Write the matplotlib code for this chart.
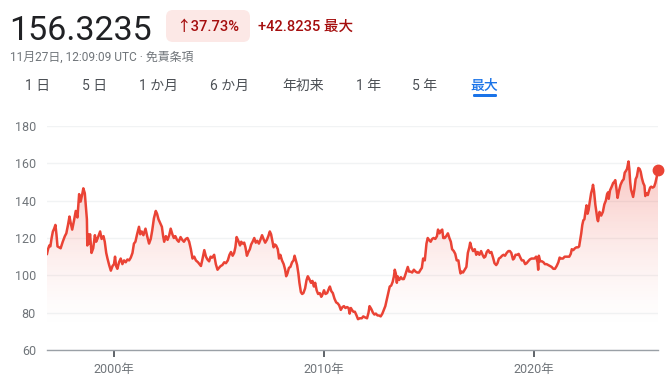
import numpy as np
import matplotlib
matplotlib.use('Agg')
import matplotlib.pyplot as plt
from matplotlib.patches import FancyBboxPatch

plt.rcParams['font.family'] = ['Roboto', 'Noto Sans CJK JP', 'DejaVu Sans']

# USD/JPY (decimal year, rate)
years = [1996.81, 1996.86, 1996.92, 1996.97, 1997.03, 1997.09, 1997.15, 1997.21, 1997.26, 1997.31,
         1997.39, 1997.46, 1997.56, 1997.66, 1997.73, 1997.81, 1997.88, 1997.94, 1998.01, 1998.09,
         1998.18, 1998.26, 1998.34, 1998.41, 1998.48, 1998.54, 1998.61, 1998.67, 1998.71, 1998.73,
         1998.77, 1998.81, 1998.86, 1998.93, 1999.01, 1999.09, 1999.15, 1999.21, 1999.29, 1999.34,
         1999.41, 1999.5, 1999.56, 1999.63, 1999.69, 1999.77, 1999.85, 1999.93, 2000.0, 2000.05,
         2000.1, 2000.16, 2000.24, 2000.32, 2000.4, 2000.48, 2000.56, 2000.64, 2000.72, 2000.8,
         2000.88, 2000.95, 2001.02, 2001.1, 2001.19, 2001.25, 2001.32, 2001.4, 2001.5, 2001.58,
         2001.67, 2001.75, 2001.82, 2001.9, 2001.99, 2002.05, 2002.12, 2002.2, 2002.28, 2002.34,
         2002.39, 2002.47, 2002.55, 2002.63, 2002.7, 2002.78, 2002.85, 2002.92, 2003.0, 2003.08,
         2003.17, 2003.25, 2003.33, 2003.42, 2003.5, 2003.58, 2003.66, 2003.74, 2003.82, 2003.9,
         2004.0, 2004.07, 2004.14, 2004.2, 2004.3, 2004.38, 2004.45, 2004.53, 2004.6, 2004.68,
         2004.77, 2004.85, 2004.93, 2005.0, 2005.08, 2005.16, 2005.25, 2005.33, 2005.42, 2005.5,
         2005.57, 2005.65, 2005.72, 2005.78, 2005.84, 2005.92, 2006.0, 2006.06, 2006.12, 2006.2,
         2006.26, 2006.33, 2006.4, 2006.47, 2006.53, 2006.6, 2006.68, 2006.75, 2006.82, 2006.9,
         2006.97, 2007.05, 2007.12, 2007.2, 2007.28, 2007.35, 2007.42, 2007.48, 2007.55, 2007.6,
         2007.66, 2007.72, 2007.8, 2007.86, 2007.92, 2008.0, 2008.08, 2008.15, 2008.2, 2008.26,
         2008.33, 2008.4, 2008.48, 2008.55, 2008.6, 2008.66, 2008.72, 2008.78, 2008.83, 2008.9,
         2008.96, 2009.02, 2009.1, 2009.17, 2009.23, 2009.3, 2009.38, 2009.45, 2009.52, 2009.58,
         2009.65, 2009.72, 2009.8, 2009.87, 2009.92, 2010.0, 2010.07, 2010.15, 2010.22, 2010.28,
         2010.35, 2010.42, 2010.5, 2010.58, 2010.65, 2010.72, 2010.8, 2010.88, 2010.95, 2011.02,
         2011.1, 2011.17, 2011.22, 2011.28, 2011.33, 2011.4, 2011.47, 2011.55, 2011.62, 2011.7,
         2011.8, 2011.87, 2011.95, 2012.05, 2012.12, 2012.17, 2012.25, 2012.33, 2012.4, 2012.47,
         2012.55, 2012.62, 2012.7, 2012.78, 2012.85, 2012.92, 2013.0, 2013.07, 2013.13, 2013.2,
         2013.27, 2013.33, 2013.37, 2013.42, 2013.47, 2013.5, 2013.58, 2013.66, 2013.73, 2013.8,
         2013.85, 2013.92, 2013.99, 2014.05, 2014.12, 2014.2, 2014.28, 2014.36, 2014.44, 2014.52,
         2014.6, 2014.66, 2014.72, 2014.8, 2014.88, 2014.94, 2015.0, 2015.08, 2015.15, 2015.22,
         2015.3, 2015.38, 2015.43, 2015.5, 2015.58, 2015.63, 2015.68, 2015.75, 2015.82, 2015.9,
         2015.97, 2016.04, 2016.1, 2016.18, 2016.25, 2016.32, 2016.4, 2016.45, 2016.5, 2016.55,
         2016.62, 2016.7, 2016.78, 2016.85, 2016.92, 2016.96, 2017.02, 2017.1, 2017.18, 2017.25,
         2017.32, 2017.4, 2017.48, 2017.55, 2017.62, 2017.68, 2017.75, 2017.82, 2017.9, 2017.97,
         2018.05, 2018.12, 2018.2, 2018.26, 2018.33, 2018.4, 2018.48, 2018.55, 2018.62, 2018.7,
         2018.78, 2018.85, 2018.92, 2019.0, 2019.05, 2019.12, 2019.2, 2019.27, 2019.35, 2019.42,
         2019.5, 2019.58, 2019.65, 2019.72, 2019.8, 2019.88, 2019.95, 2020.02, 2020.1, 2020.17,
         2020.2, 2020.23, 2020.3, 2020.38, 2020.45, 2020.52, 2020.6, 2020.68, 2020.76, 2020.84,
         2020.92, 2021.0, 2021.08, 2021.16, 2021.22, 2021.3, 2021.38, 2021.46, 2021.52, 2021.6,
         2021.68, 2021.75, 2021.8, 2021.87, 2021.95, 2022.02, 2022.1, 2022.15, 2022.2, 2022.25,
         2022.3, 2022.35, 2022.4, 2022.45, 2022.5, 2022.55, 2022.6, 2022.65, 2022.72, 2022.78,
         2022.81, 2022.86, 2022.92, 2022.97, 2023.02, 2023.05, 2023.12, 2023.2, 2023.28, 2023.35,
         2023.42, 2023.48, 2023.53, 2023.56, 2023.62, 2023.7, 2023.77, 2023.82, 2023.87, 2023.92,
         2023.98, 2024.04, 2024.12, 2024.2, 2024.27, 2024.32, 2024.38, 2024.43, 2024.5, 2024.54,
         2024.58, 2024.62, 2024.67, 2024.72, 2024.78, 2024.84, 2024.9, 2024.97, 2025.03, 2025.08,
         2025.14, 2025.2, 2025.26, 2025.3, 2025.36, 2025.42, 2025.47, 2025.53, 2025.58, 2025.65,
         2025.72, 2025.78, 2025.83, 2025.87, 2025.905]
rates = [111.5, 114, 116, 115.5, 120, 123.5, 125, 127, 122, 115.5,
         115, 114.5, 118, 121, 122.5, 127, 131.5, 128, 124.5, 129,
         134.5, 131, 143.5, 139.5, 143, 146.6, 144, 136, 130, 116,
         122, 117, 122, 112, 114.5, 121.5, 118, 119.5, 122, 123.5,
         119.5, 121, 118, 112, 109, 105.5, 102.5, 105, 106, 110,
         105, 103.5, 107, 109, 106, 108, 107, 108.5, 108, 109.5,
         112, 117, 118, 122, 126, 122, 123.5, 121.5, 125, 121,
         117, 119.5, 124, 130.5, 134.5, 133, 130, 128, 126, 121,
         118, 121, 119, 121.5, 125, 122, 120, 121, 119, 118,
         120.5, 119, 118, 119.5, 120, 118, 114, 109, 110, 108,
         107, 106, 105, 108, 113.5, 110, 108.5, 107.5, 110, 109.5,
         111, 106, 103, 104, 105, 105.5, 107, 106.5, 108, 111,
         112.5, 110.5, 112, 115, 120.5, 118.5, 116, 118, 117, 117.5,
         115, 110.5, 112.5, 114, 116.5, 118, 120, 117.5, 118.5, 117,
         119, 121.5, 119.5, 117.5, 119, 121, 123.5, 122, 118, 115,
         116.5, 116, 114, 109, 111, 108, 106, 103, 99.5, 101,
         104, 104.5, 107, 108, 110.5, 108, 105.5, 101, 96, 91,
         90, 90.5, 93, 97.5, 99.5, 98, 96, 97, 94, 96,
         92, 90, 90.5, 88.5, 89.5, 92, 90, 90.5, 92.5, 94,
         91.5, 90.5, 87.5, 85.5, 85, 84, 81.5, 83, 83.5, 82.5,
         83, 82.5, 79.5, 82.5, 81.5, 80.5, 80.5, 78.5, 76.5, 77,
         77, 78, 77.5, 77, 80, 83.5, 82, 80, 79, 79.5,
         78.5, 78.5, 78, 79.5, 81.5, 83.5, 87.5, 91, 94, 94.5,
         96.5, 99.5, 103, 101, 96, 99.5, 97.5, 99, 98, 98,
         99.5, 102, 104.5, 102, 102, 101.5, 103, 102, 101.5, 101.5,
         103, 104, 109, 108, 117, 120, 119, 118, 119.5, 120,
         119.5, 121, 124.5, 122.5, 124, 124.5, 120, 120, 121, 122.5,
         120, 118, 114, 113, 111.5, 108, 108, 104, 101, 102,
         101.5, 103, 104.5, 112, 115, 117.5, 115, 113, 114, 111,
         112.5, 111, 113, 111, 109.5, 110, 112.5, 113.5, 112, 112.5,
         109.5, 106.5, 105.5, 106.5, 109, 109.5, 110.5, 111, 110.5, 112,
         113, 113, 112, 108.5, 109, 111, 111, 111.5, 109.5, 108,
         108, 106, 106.5, 107.5, 108.5, 109, 109, 109, 110, 107,
         103, 110.5, 107.5, 107.5, 107, 106, 106, 105.5, 105, 104.5,
         103.5, 103.5, 105, 107, 109.5, 109, 109, 110, 110, 110,
         110, 111.5, 114, 113.5, 114.5, 115, 115, 115.5, 119, 122.5,
         127, 129.5, 130, 134, 137.5, 133, 135, 139, 144, 146.5,
         148.5, 145, 138, 134, 130, 129, 134, 132, 134, 138,
         140, 143.5, 144.5, 141, 145.5, 147.5, 149.5, 150, 151, 147,
         141.5, 145, 148.5, 150.5, 151.5, 155, 156, 157, 161, 157,
         150, 146, 144, 142, 146, 151.5, 153, 157.5, 157, 155.5,
         152, 149.5, 148, 142.5, 144, 143, 145, 147, 147.5, 147,
         147.5, 149.5, 152, 154, 156.3235]

y_ticks = [60, 80, 100, 120, 140, 160, 180]
x_ticks = [2000, 2010, 2020]
x_tick_labels = ['2000年', '2010年', '2020年']
tab_labels = ['1 日', '5 日', '1 か月', '6 か月', '年初来', '1 年', '5 年', '最大']

red = '#ea4335'
gray = '#70757a'

fig = plt.figure(figsize=(6.72, 3.84), dpi=100)
W, H = 672, 384

# header (pixel positions -> figure fraction)
def fx(x):
    return x / W

def fy(y):
    return 1 - y / H

fig.text(fx(9), fy(39.5), '156.3235', fontsize=24.5, color='#202124', va='baseline', ha='left')

badge = FancyBboxPatch((1.66, (H - 42) / 100), 0.84, 0.32,
                       boxstyle='round,pad=0,rounding_size=0.07',
                       transform=fig.dpi_scale_trans, fc='#fce8e6', ec='none')
fig.patches.append(badge)
fig.text(fx(208), fy(26.5), '↑37.73%', fontsize=10.5, color='#a50e0e', ha='center', va='center',
         fontweight='medium')
fig.text(fx(258), fy(26.5), '+42.8235 最大', fontsize=10.5, color='#a50e0e', ha='left', va='center',
         fontweight='medium')

fig.text(fx(10), fy(57), '11月27日, 12:09:09 UTC · 免責条項', fontsize=8.6, color=gray,
         ha='left', va='center')

tab_x = [37.5, 94.5, 158.5, 229, 303.5, 368.5, 425, 484.5]
for lab, tx in zip(tab_labels, tab_x):
    c = '#1a73e8' if lab == '最大' else '#4d5156'
    w = 'medium' if lab == '最大' else 'normal'
    fig.text(fx(tx), fy(86), lab, fontsize=10, color=c, ha='center', va='center', fontweight=w)
underline = FancyBboxPatch((4.73, (H - 97) / 100), 0.24, 0.03,
                           boxstyle='round,pad=0,rounding_size=0.012',
                           transform=fig.dpi_scale_trans, fc='#1a73e8', ec='none')
fig.patches.append(underline)

# chart
ax = fig.add_axes([47 / W, 34 / H, 611 / W, 224 / H])
x0, x1 = 1996.81, 2025.905
ax.set_xlim(x0, x1)
ax.set_ylim(60, 180)

# gradient fill under the line
v = np.linspace(60, 180, 300)
alpha = 0.3 * np.clip((v - 70) / 90, 0, 1) ** 1.5
img = np.zeros((300, 1, 4))
img[..., 0], img[..., 1], img[..., 2] = 0.918, 0.263, 0.208
img[..., 3] = alpha[:, None]
im = ax.imshow(img, extent=[x0, x1, 60, 180], origin='lower', aspect='auto', zorder=1)
poly = ax.fill_between(years, rates, 60, color='none', lw=0)
im.set_clip_path(poly.get_paths()[0], transform=ax.transData)

ax.plot(years, rates, color=red, lw=1.8, zorder=3, solid_joinstyle='round')
ax.plot(years[-1], rates[-1], 'o', color=red, markersize=7.5, zorder=4, clip_on=False)

ax.set_yticks(y_ticks)
ax.set_yticklabels([str(t) for t in y_ticks])
ax.yaxis.grid(True, color='#f1f3f4', lw=1)
ax.set_axisbelow(True)
ax.tick_params(axis='y', length=0, pad=8, labelsize=9, labelcolor=gray)
ax.set_xticks(x_ticks)
ax.set_xticklabels(x_tick_labels)
ax.tick_params(axis='x', length=5, width=1.4, color='#5f6368', pad=4, labelsize=9, labelcolor=gray)
for s in ['top', 'right', 'left']:
    ax.spines[s].set_visible(False)
ax.spines['bottom'].set_color('#9aa0a6')
ax.spines['bottom'].set_linewidth(1)
ax.spines['bottom'].set_zorder(5)

fig.savefig('out.png', dpi=100)
